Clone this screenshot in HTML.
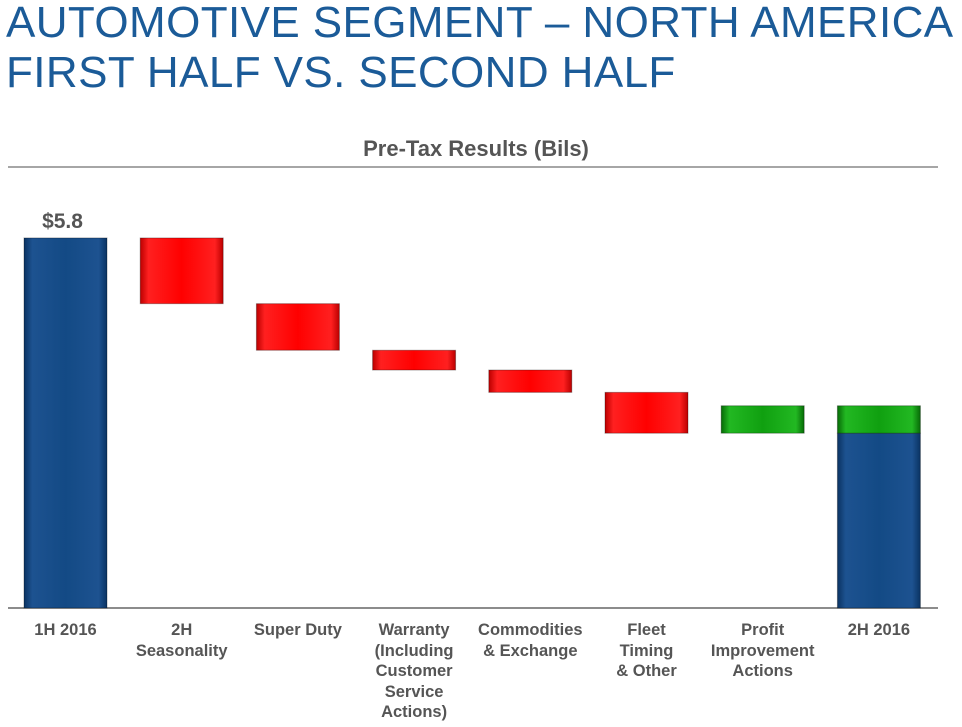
<!DOCTYPE html>
<html><head><meta charset="utf-8">
<style>
body{margin:0;width:962px;height:727px;background:#fff;overflow:hidden;font-family:"Liberation Sans",sans-serif;}
.title{position:absolute;left:6px;top:-2px;color:#1b5b98;font-size:44px;line-height:50px;letter-spacing:0.4px;}
.sub{position:absolute;left:0;width:952px;top:136px;text-align:center;color:#555;font-weight:bold;font-size:22px;}
.cat{position:absolute;top:620px;width:130px;text-align:center;color:#555;font-weight:bold;font-size:16.5px;line-height:20.5px;}
</style></head><body>
<div class="title">AUTOMOTIVE SEGMENT – NORTH AMERICA<br>FIRST HALF VS. SECOND HALF</div>
<div class="sub">Pre-Tax Results (Bils)</div>
<svg id="c" width="962" height="727" style="position:absolute;left:0;top:0">
<defs>
<linearGradient id="gb" x1="0" x2="1"><stop offset="0" stop-color="#0a3362"/><stop offset="0.1" stop-color="#1d5290"/><stop offset="0.5" stop-color="#134a85"/><stop offset="0.9" stop-color="#1d5290"/><stop offset="1" stop-color="#0a3362"/></linearGradient>
<linearGradient id="gr" x1="0" x2="1"><stop offset="0" stop-color="#b00"/><stop offset="0.1" stop-color="#ff2020"/><stop offset="0.5" stop-color="#f00"/><stop offset="0.9" stop-color="#ff2020"/><stop offset="1" stop-color="#b00"/></linearGradient>
<linearGradient id="gg" x1="0" x2="1"><stop offset="0" stop-color="#076a07"/><stop offset="0.1" stop-color="#22b822"/><stop offset="0.5" stop-color="#10a010"/><stop offset="0.9" stop-color="#22b822"/><stop offset="1" stop-color="#076a07"/></linearGradient>
</defs>
<line x1="8" y1="167" x2="938" y2="167" stroke="#888" stroke-width="1.5"/>
<line x1="8" y1="608" x2="938" y2="608" stroke="#666" stroke-width="1.5"/>
</svg>
<script>
const categories=["1H 2016","2H<br>Seasonality","Super Duty","Warranty<br>(Including<br>Customer<br>Service<br>Actions)","Commodities<br>&amp; Exchange","Fleet<br>Timing<br>&amp; Other","Profit<br>Improvement<br>Actions","2H 2016"];
const startValue=5.8;
const deltas=[-1.03,-0.73,-0.31,-0.35,-0.64,0.43];
const startLabel="$5.8";
const svg=document.getElementById('c');
const NS='http://www.w3.org/2000/svg';
const base=608, ppu=63.8, x0=24, step=116.2, bw=83;
function y(v){return base-v*ppu;}
function xs(i){return x0+i*step;}
function rect(x,y1,y2,fill,name){
  const r=document.createElementNS(NS,'rect');
  r.setAttribute('x',x);r.setAttribute('y',Math.min(y1,y2));r.setAttribute('width',bw);r.setAttribute('height',Math.abs(y2-y1));
  r.setAttribute('fill',fill);r.setAttribute('stroke','rgba(0,0,0,0.3)');
  
  
  svg.appendChild(r);
}
rect(xs(0),y(startValue),y(0),'url(#gb)','bar-1h-2016');
let level=startValue;
deltas.forEach((d,i)=>{
  const nl=level+d;
  rect(xs(i+1),y(level),y(nl),d<0?'url(#gr)':'url(#gg)','bar-delta-'+(i+1));
  level=nl;
});
const last=deltas[deltas.length-1];
rect(xs(7),y(level-last),y(0),'url(#gb)','bar-2h-2016');
rect(xs(7),y(level),y(level-last),'url(#gg)','bar-2h-2016-improvement');
const t=document.createElementNS(NS,'text');
t.setAttribute('x',xs(0)+bw/2-3);t.setAttribute('y',y(startValue)-10);t.setAttribute('text-anchor','middle');
t.setAttribute('font-size','21');t.setAttribute('font-weight','bold');t.setAttribute('fill','#555');
t.setAttribute('font-family','Liberation Sans, sans-serif');


t.textContent=startLabel;svg.appendChild(t);
categories.forEach((c,i)=>{
  const d=document.createElement('div');d.className='cat';d.style.left=(xs(i)+bw/2-65)+'px';d.innerHTML=c;
  
  
  document.body.appendChild(d);
});
</script>
</body></html>
